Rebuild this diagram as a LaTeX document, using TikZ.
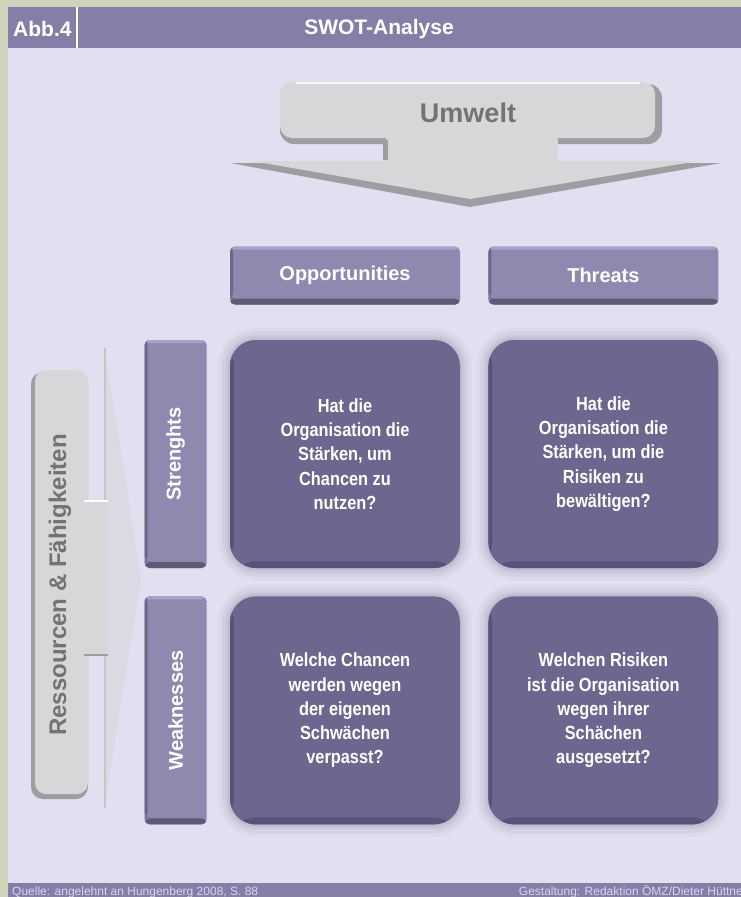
\documentclass[tikz,border=0pt]{standalone}
\usepackage{fontspec}
\usepackage{graphicx}
\setmainfont{Liberation Sans}
\newfontfamily\narrowsans{Liberation Sans}[FakeStretch=0.86]
\usetikzlibrary{positioning}
\definecolor{SwotOlive}{HTML}{D0D2BC}
\definecolor{SwotBack}{HTML}{E1DFF0}
\definecolor{SwotBar}{HTML}{857FA8}
\definecolor{SwotBox}{HTML}{8E89AE}
\definecolor{SwotBoxHigh}{HTML}{A8A3CA}
\definecolor{SwotBoxDark}{HTML}{5E5A78}
\definecolor{SwotCell}{HTML}{6C678F}
\definecolor{SwotCellDark}{HTML}{57537B}
\definecolor{SwotGlow}{HTML}{8E8BA5}
\definecolor{ArrowLight}{HTML}{D7D7D9}
\definecolor{ArrowDark}{HTML}{9E9EA2}
\definecolor{ArrowText}{HTML}{737375}
\definecolor{FootText}{HTML}{D8D6EA}
\tikzset{
  headtext/.style={text=white, inner sep=0pt, font=\bfseries\fontsize{21}{21}\selectfont},
  headbox/.style={fill=SwotBox, rounded corners=5pt, inner sep=0pt,
    minimum width=230pt, minimum height=58pt, text=white,
    font=\bfseries\fontsize{20}{20}\selectfont,
    path picture={
      \fill[SwotBoxHigh] (path picture bounding box.north west) rectangle ([yshift=-3pt]path picture bounding box.north east);
      \fill[SwotBoxDark] ([yshift=6pt]path picture bounding box.south west) rectangle (path picture bounding box.south east);
      \fill[SwotBoxDark!70!SwotBox] (path picture bounding box.north west) rectangle ([xshift=3pt,yshift=6pt]path picture bounding box.south west);
    }},
  sidebox/.style={headbox, minimum width=62pt, minimum height=228pt},
  cellbox/.style={fill=SwotCell, rounded corners=26pt, inner sep=0pt,
    minimum width=230pt, minimum height=228pt, align=center, text=white,
    font=\narrowsans\bfseries\fontsize{19}{24.25}\selectfont,
    preaction={draw=SwotGlow, line width=24pt, opacity=0.07},
    preaction={draw=SwotGlow, line width=17pt, opacity=0.09},
    preaction={draw=SwotGlow, line width=10pt, opacity=0.12},
    preaction={draw=SwotGlow, line width=5pt, opacity=0.15},
    path picture={
      \fill[SwotCellDark] ([yshift=7pt]path picture bounding box.south west) rectangle (path picture bounding box.south east);
      \fill[SwotCellDark] (path picture bounding box.north west) rectangle ([xshift=4pt]path picture bounding box.south west);
    }},
  arrowtext/.style={text=ArrowText, inner sep=0pt, font=\bfseries\fontsize{27}{27}\selectfont},
  sidetext/.style={text=ArrowText, inner sep=0pt, font=\bfseries\fontsize{24}{24}\selectfont},
  foottext/.style={text=FootText, inner sep=0pt, font=\fontsize{12}{12}\selectfont}
}

\begin{document}
\begin{tikzpicture}[x=1pt, y=-1pt, node distance=28pt and 28pt]
  \useasboundingbox (0,0) rectangle (741,897);
  \clip (0,0) rectangle (741,897);
  % frame, header and footer
  \fill[SwotOlive] (0,0) rectangle (741,897);
  \fill[SwotBack] (8,48) rectangle (741,883);
  \fill[SwotBar] (8,7) rectangle (741,48);
  \fill[SwotBar] (8,883) rectangle (741,897);
  \draw[white, line width=1.5pt] (77,7) -- (77,48);
  \node[headtext, anchor=west] (abb) at (13,29) {Abb.4};
  \node[headtext] (title) at (379,29) {SWOT-Analyse};

  % Umwelt arrow
  \fill[ArrowDark] (230,163) -- (721,163) -- (470,207) -- cycle;
  \fill[ArrowLight] (252,161) -- (698,161) -- (470,199) -- cycle;
  \fill[ArrowDark, rounded corners=14pt] (280,84) rectangle (662,144);
  \fill[ArrowLight, rounded corners=12pt] (280,82) rectangle (655,138);
  \fill[ArrowLight] (386,130) rectangle (558,166);
  \fill[ArrowDark] (383,140) rectangle (388,160);
  \draw[white, line width=1.5pt, opacity=0.8] (296,83) -- (640,83);
  \node[arrowtext] (umwelt) at (468,113) {Umwelt};

  % Ressourcen arrow
  \fill[ArrowLight!60!SwotBack] (104,345) -- (104,810) -- (141,578) -- cycle;
  \draw[ArrowDark!60, line width=2pt] (105,348) -- (105,808);
  \fill[ArrowDark, rounded corners=12pt] (31,372) rectangle (88,799);
  \fill[ArrowLight, rounded corners=11pt] (35,370) rectangle (88,794);
  \fill[ArrowLight] (80,500) rectangle (108,655);
  \draw[white, line width=2pt] (84,501) -- (108,501);
  \draw[ArrowDark, line width=2pt] (84,655) -- (108,655);
  \node[sidetext, rotate=90] (ressourcen) at (60,585) {Ressourcen \& Fähigkeiten};

  % matrix
  \node[cellbox] (so) at (345,454) {Hat die\\Organisation die\\Stärken, um\\Chancen zu\\nutzen?};
  \node[cellbox, right=of so] (st) {Hat die\\Organisation die\\Stärken, um die\\Risiken zu\\bewältigen?};
  \node[cellbox, below=of so] (wo) {Welche Chancen\\werden wegen\\der eigenen\\Schwächen\\verpasst?};
  \node[cellbox, below=of st] (wt) {Welchen Risiken\\ist die Organisation\\wegen ihrer\\Schächen\\ausgesetzt?};
  \node[headbox, above=35pt of so] (opp) {Opportunities};
  \node[headbox, above=35pt of st] (threats) {Threats};
  \node[sidebox, left=23pt of so] (strengths) {\rotatebox{90}{Strenghts}};
  \node[sidebox, left=23pt of wo] (weak) {\rotatebox{90}{Weaknesses}};

  % footer
  \node[foottext, anchor=base west] (quelle) at (12,895.5) {Quelle: angelehnt an Hungenberg 2008, S. 88};
  \node[foottext, anchor=base east] (gestaltung) at (747,895.5) {Gestaltung: Redaktion ÖMZ/Dieter Hüttner};
\end{tikzpicture}
\end{document}
